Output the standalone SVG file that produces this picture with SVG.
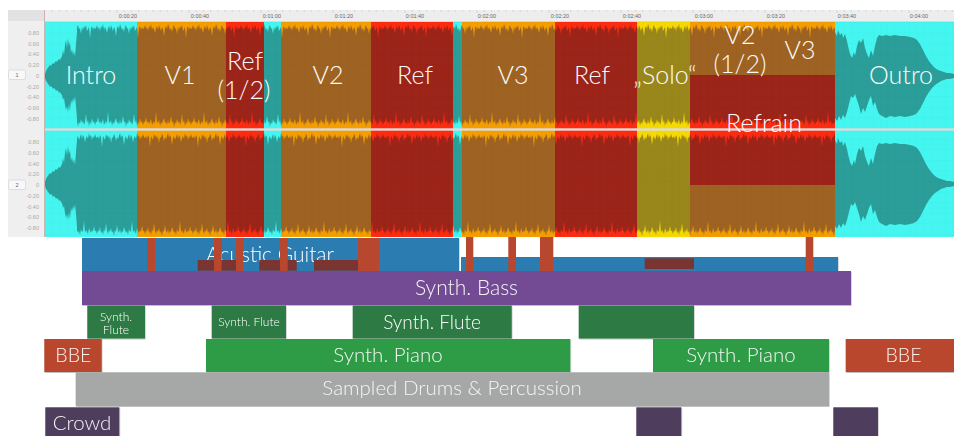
<svg xmlns="http://www.w3.org/2000/svg" xmlns:xlink="http://www.w3.org/1999/xlink" width="954" height="436" viewBox="0 0 954 436">
<style>
.t{font-family:Lato,'Liberation Sans',Arial,sans-serif;font-weight:300;fill:#fff;text-anchor:middle}
.sec{font-size:25px;fill:#fbfbfb}
.bl{font-size:20.5px;fill:#f4f4f4}
.ax{font-family:'Liberation Sans',Arial,sans-serif;font-size:5.5px;fill:#a9a9a9;text-anchor:end}
.rl{font-family:'Liberation Sans',Arial,sans-serif;font-size:5.5px;fill:#6a6a6a;text-anchor:middle}
.cy{fill:#45F6F0}.or{fill:#F49E00}.rd{fill:#FF2B10}.ye{fill:#F6D900}
.dcy{fill:#2B9E99}.dor{fill:#9E6322}.drd{fill:#9C2419}.dye{fill:#9A871B}
.gtr{fill:#2C7BB1}.mk{fill:#B8472F}.br{fill:#7A3430}
.bass{fill:#734C94}.fl{fill:#2E7A45}.pi{fill:#2F9C46}.bbe{fill:#B8472F}.dr{fill:#A5A8A6}.cr{fill:#4F3E5D}
</style>
<defs>
<path id="wtile" d="M0,6 1,3 2,7 3,5 4,9 5,4 6,6 7,2 8,8 9,5 10,7 11,11 12,6 13,4 14,8 15,3 16,6 17,9 18,5 19,7 20,14 21,6 22,4 23,7 24,2 25,5 26,8 27,6 28,10 29,5 30,3 31,7 32,6 33,12 34,5 35,8 36,4 37,6 38,3 39,9 40,7 41,5 42,16 43,6 44,4 45,8 46,5 47,7 48,6 48,100 47,103 46,99 45,101 44,96 43,102 42,100 41,104 40,98 39,101 38,92 37,100 36,103 35,99 34,101 33,97 32,102 31,100 30,105 29,99 28,101 27,94 26,100 25,102 24,98 23,103 22,100 21,101 20,96 19,99 18,102 17,100 16,104 15,98 14,101 13,100 12,90 11,102 10,99 9,101 8,103 7,97 6,100 5,102 4,99 3,101 2,95 1,100 0,100Z"/>
<pattern id="wp" patternUnits="userSpaceOnUse" x="0" y="22" width="48" height="218">
<use href="#wtile" fill="#fff"/>
<use href="#wtile" fill="#fff" transform="translate(48,109) scale(-1,1)"/>
</pattern>
<path id="intro" d="M45,-2 46,-5 47,-7 48,-8 49,-10 50,-11 51,-10 52,-12 53,-13 54,-12 55,-14 56,-15 57,-14 58,-16 59,-17 60,-16 61,-18 62,-20 63,-26 64,-21 65,-31 66,-36 67,-28 68,-38 69,-30 70,-34 71,-23 72,-27 73,-21 74,-25 75,-19 76,-32 77,-44 79,-44 79,44 77,43 76,30 75,20 74,26 73,22 72,28 71,24 70,35 69,28 68,36 67,30 66,34 65,29 64,22 63,24 62,19 61,18 60,16 59,17 58,15 57,14 56,15 55,13 54,12 53,13 52,11 51,10 50,11 49,9 48,8 47,6 46,5 45,2Z"/>
<path id="outro" d="M833,-44 835,-44 837,-40 838,-46 840,-41 842,-43 843,-38 845,-42 847,-35 848,-30 850,-22 852,-18 854,-24 855,-20 857,-30 859,-36 861,-33 863,-38 865,-28 867,-22 869,-18 871,-26 873,-20 875,-30 877,-38 879,-41 882,-40 886,-41 890,-40 895,-41 900,-40 905,-40 910,-39 914,-38 917,-36 920,-32 923,-26 926,-20 929,-15 932,-11 935,-8 938,-6 941,-5 944,-4 947,-3 950,-3 954,-2 954,2 950,3 947,3 944,4 941,5 938,7 935,9 932,12 929,16 926,21 923,27 920,33 917,37 914,39 910,40 905,41 900,40 895,41 890,40 886,42 882,40 879,38 877,33 875,26 873,30 871,20 869,24 867,30 865,36 863,32 861,38 859,30 857,24 855,18 853,22 851,20 849,28 847,36 845,42 843,39 841,44 839,40 837,45 835,42 833,42Z"/>
<mask id="wm" maskUnits="userSpaceOnUse" x="0" y="0" width="954" height="436">
<rect x="77" y="22" width="758" height="215" fill="url(#wp)"/>
<use href="#intro" fill="#fff" transform="translate(0,76)"/>
<use href="#intro" fill="#fff" transform="translate(0,184)"/>
<use href="#outro" fill="#fff" transform="translate(0,76)"/>
<use href="#outro" fill="#fff" transform="translate(0,184)"/>
</mask>
<pattern id="grid" patternUnits="userSpaceOnUse" x="45" y="22" width="7.2" height="10.6">
<path d="M0,0V10.6M0,0H7.2" stroke="#000" stroke-width="0.5" fill="none"/>
</pattern>
<filter id="sh" x="-5%" y="-20%" width="110%" height="150%">
<feDropShadow dx="0.5" dy="0.8" stdDeviation="0.6" flood-color="#000" flood-opacity="0.3"/>
</filter>
</defs>

<rect width="954" height="436" fill="#fff"/>

<g id="editor-frame">
<rect x="8" y="10" width="37" height="227" fill="#EFEFEF"/>
<rect x="8" y="10" width="37" height="11" fill="#E2E2E2"/>
<rect x="45" y="10" width="909" height="12" fill="#EDEDED"/>
<path d="M45,21.5H954" stroke="#d2d2d2" stroke-width="0.8"/>
<path d="M44.5,10V237" stroke="#C9B3B3" stroke-width="1"/>
<path d="M52.2,10v2M59.4,10v2M66.6,10v2M73.8,10v2M81,10v2M88.2,10v2M95.4,10v2M102.6,10v2M109.8,10v2M117,10v3M124.2,10v2M131.4,10v2M138.6,10v2M145.8,10v2M153,10v2M160.2,10v2M167.4,10v2M174.6,10v2M181.8,10v2M189,10v3M196.2,10v2M203.4,10v2M210.6,10v2M217.8,10v2M225,10v2M232.2,10v2M239.4,10v2M246.6,10v2M253.8,10v2M261,10v3M268.2,10v2M275.4,10v2M282.6,10v2M289.8,10v2M297,10v2M304.2,10v2M311.4,10v2M318.6,10v2M325.8,10v2M333,10v3M340.2,10v2M347.4,10v2M354.6,10v2M361.8,10v2M369,10v2M376.2,10v2M383.4,10v2M390.6,10v2M397.8,10v2M405,10v3M412.2,10v2M419.4,10v2M426.6,10v2M433.8,10v2M441,10v2M448.2,10v2M455.4,10v2M462.6,10v2M469.8,10v2M477,10v3M484.2,10v2M491.4,10v2M498.6,10v2M505.8,10v2M513,10v2M520.2,10v2M527.4,10v2M534.6,10v2M541.8,10v2M549,10v3M556.2,10v2M563.4,10v2M570.6,10v2M577.8,10v2M585,10v2M592.2,10v2M599.4,10v2M606.6,10v2M613.8,10v2M621,10v3M628.2,10v2M635.4,10v2M642.6,10v2M649.8,10v2M657,10v2M664.2,10v2M671.4,10v2M678.6,10v2M685.8,10v2M693,10v3M700.2,10v2M707.4,10v2M714.6,10v2M721.8,10v2M729,10v2M736.2,10v2M743.4,10v2M750.6,10v2M757.8,10v2M765,10v3M772.2,10v2M779.4,10v2M786.6,10v2M793.8,10v2M801,10v2M808.2,10v2M815.4,10v2M822.6,10v2M829.8,10v2M837,10v3M844.2,10v2M851.4,10v2M858.6,10v2M865.8,10v2M873,10v2M880.2,10v2M887.4,10v2M894.6,10v2M901.8,10v2M909,10v3M916.2,10v2M923.4,10v2M930.6,10v2M937.8,10v2M945,10v2M952.2,10v2" stroke="#c4c4c4" stroke-width="0.6"/>
<text class="rl" x="128" y="18">0:00:20</text>
<text class="rl" x="200" y="18">0:00:40</text>
<text class="rl" x="272" y="18">0:01:00</text>
<text class="rl" x="344" y="18">0:01:20</text>
<text class="rl" x="415" y="18">0:01:40</text>
<text class="rl" x="487" y="18">0:02:00</text>
<text class="rl" x="560" y="18">0:02:20</text>
<text class="rl" x="632" y="18">0:02:40</text>
<text class="rl" x="704" y="18">0:03:00</text>
<text class="rl" x="776" y="18">0:03:20</text>
<text class="rl" x="847" y="18">0:03:40</text>
<text class="rl" x="919" y="18">0:04:00</text>
<text class="ax" x="39" y="35">0.80</text>
<text class="ax" x="39" y="45.5">0.60</text>
<text class="ax" x="39" y="56">0.40</text>
<text class="ax" x="39" y="67">0.20</text>
<text class="ax" x="39" y="78">0</text>
<text class="ax" x="39" y="88.5">-0.20</text>
<text class="ax" x="39" y="99">-0.40</text>
<text class="ax" x="39" y="110">-0.60</text>
<text class="ax" x="39" y="120.5">-0.80</text>
<text class="ax" x="39" y="144">0.80</text>
<text class="ax" x="39" y="155">0.60</text>
<text class="ax" x="39" y="165.5">0.40</text>
<text class="ax" x="39" y="176">0.20</text>
<text class="ax" x="39" y="187">0</text>
<text class="ax" x="39" y="198">-0.20</text>
<text class="ax" x="39" y="208.5">-0.40</text>
<text class="ax" x="39" y="219">-0.60</text>
<text class="ax" x="39" y="230">-0.80</text>
<rect x="8.5" y="70" width="17" height="9.5" rx="1.5" fill="#f8f8f8" stroke="#cfcfcf" stroke-width="0.6"/>
<text class="rl" x="17" y="77" style="font-size:5.5px">1</text>
<rect x="8.5" y="180" width="17" height="9.5" rx="1.5" fill="#f8f8f8" stroke="#cfcfcf" stroke-width="0.6"/>
<text class="rl" x="17" y="187" style="font-size:5.5px">2</text>
</g>

<g id="waveform">
<g id="sections-bright">
<rect class="cy" x="45" y="22" width="92" height="215"/>
<rect class="or" x="137" y="22" width="89" height="215"/>
<rect class="rd" x="226" y="22" width="38" height="215"/>
<rect class="cy" x="264" y="22" width="17" height="215"/>
<rect class="or" x="281" y="22" width="90" height="215"/>
<rect class="rd" x="371" y="22" width="82" height="215"/>
<rect class="cy" x="453" y="22" width="9" height="215"/>
<rect class="or" x="462" y="22" width="93" height="215"/>
<rect class="rd" x="555" y="22" width="82" height="215"/>
<rect class="ye" x="637" y="22" width="53" height="215"/>
<rect class="or" x="690" y="22" width="145" height="53"/>
<rect class="rd" x="690" y="75" width="145" height="110"/>
<rect class="or" x="690" y="185" width="145" height="52"/>
<rect class="cy" x="835" y="22" width="119" height="215"/>
</g>
<g id="sections-wave" mask="url(#wm)">
<rect class="dcy" x="45" y="22" width="92" height="215"/>
<rect class="dor" x="137" y="22" width="89" height="215"/>
<rect class="drd" x="226" y="22" width="38" height="215"/>
<rect class="dcy" x="264" y="22" width="17" height="215"/>
<rect class="dor" x="281" y="22" width="90" height="215"/>
<rect class="drd" x="371" y="22" width="82" height="215"/>
<rect class="dcy" x="453" y="22" width="9" height="215"/>
<rect class="dor" x="462" y="22" width="93" height="215"/>
<rect class="drd" x="555" y="22" width="82" height="215"/>
<rect class="dye" x="637" y="22" width="53" height="215"/>
<rect class="dor" x="690" y="22" width="145" height="53"/>
<rect class="drd" x="690" y="75" width="145" height="110"/>
<rect class="dor" x="690" y="185" width="145" height="52"/>
<rect class="dcy" x="835" y="22" width="119" height="215"/>
</g>
<rect x="45" y="22" width="909" height="215" fill="url(#grid)" opacity="0.07"/>
<rect x="45" y="128.3" width="909" height="2.4" fill="#dcdcdc"/>
</g>

<g id="section-labels">
<text class="t sec" x="91" y="84">Intro</text>
<text class="t sec" x="180" y="84">V1</text>
<text class="t sec" x="245" y="70">Ref</text>
<text class="t sec" x="244" y="99">(1/2)</text>
<text class="t sec" x="328" y="84">V2</text>
<text class="t sec" x="415" y="84">Ref</text>
<text class="t sec" x="513" y="84">V3</text>
<text class="t sec" x="592" y="84">Ref</text>
<text class="t sec" x="665" y="84">„Solo“</text>
<text class="t sec" x="740" y="44">V2</text>
<text class="t sec" x="740" y="73">(1/2)</text>
<text class="t sec" x="800" y="59">V3</text>
<text class="t sec" x="764" y="132">Refrain</text>
<text class="t sec" x="901" y="84">Outro</text>
</g>

<g id="acoustic-guitar" filter="url(#sh)">
<rect class="gtr" x="82" y="238" width="377" height="33"/>
<rect class="gtr" x="461" y="257" width="377" height="14"/>
<text class="t" x="270" y="262" style="font-size:21px">Acustic Guitar</text>
<rect class="br" x="197.7" y="260" width="38.3" height="10.7"/>
<rect class="br" x="259.3" y="260" width="37.4" height="10.7"/>
<rect class="br" x="314" y="260" width="44.3" height="10.7"/>
<rect class="br" x="644.7" y="258.3" width="49.3" height="10.7"/>
</g>
<g id="markers">
<rect class="mk" x="147.3" y="238" width="7.7" height="33"/>
<rect class="mk" x="214" y="238" width="7.7" height="33"/>
<rect class="mk" x="236" y="238" width="7.3" height="33"/>
<rect class="mk" x="280" y="238" width="7.7" height="33"/>
<rect class="mk" x="358" y="238" width="21.3" height="33"/>
<rect class="mk" x="466" y="237" width="7.3" height="34"/>
<rect class="mk" x="508.3" y="237" width="7.7" height="34"/>
<rect class="mk" x="540" y="237" width="13.3" height="34"/>
<rect class="mk" x="805.7" y="237" width="7.6" height="34"/>
</g>

<g id="synth-bass" filter="url(#sh)">
<rect class="bass" x="82" y="271" width="769" height="34"/>
<text class="t bl" x="466.5" y="295" style="font-size:21px">Synth. Bass</text>
</g>

<g id="synth-flute-1" filter="url(#sh)">
<rect class="fl" x="87.3" y="305.5" width="57.7" height="33"/>
<text class="t" x="116" y="320.7" style="font-size:12px">Synth.</text>
<text class="t" x="116" y="334" style="font-size:12px">Flute</text>
</g>
<g id="synth-flute-2" filter="url(#sh)">
<rect class="fl" x="211.7" y="305.5" width="74.3" height="33"/>
<text class="t" x="249" y="326" style="font-size:12px">Synth. Flute</text>
</g>
<g id="synth-flute-3" filter="url(#sh)">
<rect class="fl" x="352.7" y="305.5" width="159" height="33"/>
<text class="t" x="432" y="329" style="font-size:19px">Synth. Flute</text>
</g>
<g id="synth-flute-4" filter="url(#sh)">
<rect class="fl" x="578.7" y="305.5" width="115.3" height="33"/>
</g>

<g id="bbe-1" filter="url(#sh)">
<rect class="bbe" x="44.3" y="339" width="57.4" height="33"/>
<text class="t bl" x="73.3" y="362" style="font-size:19.5px">BBE</text>
</g>
<g id="synth-piano-1" filter="url(#sh)">
<rect class="pi" x="206" y="339" width="364.3" height="33"/>
<text class="t bl" x="388" y="362">Synth. Piano</text>
</g>
<g id="synth-piano-2" filter="url(#sh)">
<rect class="pi" x="653" y="339" width="176" height="33"/>
<text class="t bl" x="741" y="362">Synth. Piano</text>
</g>
<g id="bbe-2" filter="url(#sh)">
<rect class="bbe" x="845.7" y="339" width="120" height="33"/>
<text class="t bl" x="903.5" y="362" style="font-size:19.5px">BBE</text>
</g>

<g id="drums" filter="url(#sh)">
<rect class="dr" x="75.7" y="372.3" width="753.3" height="33.7"/>
<text class="t bl" x="452" y="395">Sampled Drums &amp; Percussion</text>
</g>

<g id="crowd-1" filter="url(#sh)">
<rect class="cr" x="45.3" y="407.3" width="74" height="30"/>
<text class="t bl" x="82" y="430">Crowd</text>
</g>
<g id="crowd-2" filter="url(#sh)">
<rect class="cr" x="636.3" y="407.3" width="45" height="30"/>
</g>
<g id="crowd-3" filter="url(#sh)">
<rect class="cr" x="833.3" y="407.3" width="44.7" height="30"/>
</g>

<g id="connectors"/>
</svg>
